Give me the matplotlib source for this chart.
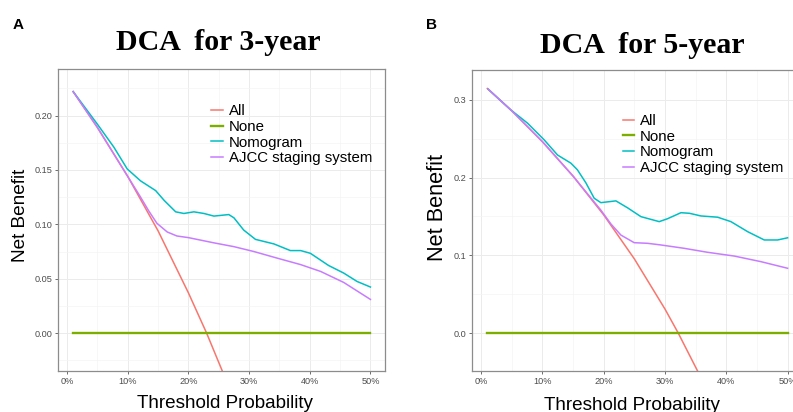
import numpy as np
import matplotlib
matplotlib.use("Agg")
from matplotlib import pyplot as plt

# ---- data ----
series_names = ["All", "None", "Nomogram", "AJCC staging system"]
series_colors = ["#F8766D", "#7CAE00", "#00BFC4", "#C77CFF"]

x_ticks = [0.0, 0.1, 0.2, 0.3, 0.4, 0.5]
x_tick_labels = ["0%", "10%", "20%", "30%", "40%", "50%"]
none_thr = [0.01, 0.50]
none_nb = [0.0, 0.0]

# 3-year
all3_thr = [0.01, 0.05, 0.10, 0.15, 0.20, 0.23, 0.256]
all3_nb = [0.222, 0.189, 0.144, 0.094, 0.037, 0.0, -0.035]
nomo3_thr = [0.01, 0.05, 0.077, 0.099, 0.121, 0.146, 0.160, 0.179, 0.1925, 0.209,
             0.2255, 0.242, 0.2665, 0.275, 0.291, 0.3105, 0.341, 0.368, 0.385,
             0.401, 0.431, 0.456, 0.478, 0.50]
nomo3_nb = [0.222, 0.192, 0.171, 0.151, 0.140, 0.131, 0.122, 0.1115, 0.110, 0.1115,
            0.110, 0.1076, 0.109, 0.106, 0.0948, 0.0862, 0.082, 0.0759, 0.0759,
            0.0734, 0.0622, 0.0552, 0.0475, 0.0424]
ajcc3_thr = [0.01, 0.05, 0.10, 0.12, 0.135, 0.148, 0.165, 0.181, 0.20, 0.242, 0.275,
             0.308, 0.346, 0.385, 0.418, 0.456, 0.50]
ajcc3_nb = [0.222, 0.189, 0.144, 0.126, 0.112, 0.101, 0.093, 0.0893, 0.0878, 0.083,
            0.0795, 0.075, 0.069, 0.063, 0.0567, 0.0466, 0.031]
y3_ticks = [0.0, 0.05, 0.10, 0.15, 0.20]
y3_labels = ["0.00", "0.05", "0.10", "0.15", "0.20"]

# 5-year
all5_thr = [0.01, 0.05, 0.10, 0.15, 0.20, 0.25, 0.30, 0.3215, 0.353]
all5_nb = [0.3146, 0.2858, 0.2461, 0.2018, 0.1519, 0.0953, 0.0307, 0.0, -0.0487]
nomo5_thr = [0.0114, 0.0484, 0.0756, 0.1028, 0.1246, 0.1464, 0.157, 0.171, 0.1844,
             0.1953, 0.2198, 0.239, 0.2607, 0.2905, 0.304, 0.326, 0.340, 0.3586,
             0.3858, 0.4075, 0.4348, 0.462, 0.4837, 0.50]
nomo5_nb = [0.3137, 0.287, 0.270, 0.2485, 0.229, 0.2185, 0.210, 0.193, 0.1734,
            0.1677, 0.170, 0.161, 0.1497, 0.1433, 0.147, 0.1548, 0.154, 0.1506,
            0.149, 0.1433, 0.1304, 0.1197, 0.1197, 0.1225]
ajcc5_thr = [0.0114, 0.05, 0.10, 0.15, 0.1954, 0.212, 0.228, 0.2497, 0.2716, 0.293,
             0.331, 0.369, 0.413, 0.4565, 0.50]
ajcc5_nb = [0.3137, 0.2858, 0.2461, 0.2018, 0.158, 0.140, 0.126, 0.1162, 0.1154,
            0.1133, 0.109, 0.1039, 0.099, 0.0918, 0.0833]
y5_ticks = [0.0, 0.1, 0.2, 0.3]
y5_labels = ["0.0", "0.1", "0.2", "0.3"]


def style_axes(ax, yticks, ylabels, yminor, ylim):
    ax.set_xlim(-0.0145, 0.5245)
    ax.set_ylim(*ylim)
    ax.set_xticks(x_ticks)
    ax.set_xticklabels(x_tick_labels)
    ax.set_xticks([0.05, 0.15, 0.25, 0.35, 0.45], minor=True)
    ax.set_yticks(yticks)
    ax.set_yticklabels(ylabels)
    ax.set_yticks(yminor, minor=True)
    ax.grid(which="major", color="#EBEBEB", lw=0.7)
    ax.grid(which="minor", color="#F4F4F4", lw=0.5)
    ax.set_axisbelow(True)
    ax.tick_params(which="major", length=2.5, width=0.6, color="#555555",
                   labelsize=6.6, labelcolor="#4D4D4D", pad=2)
    ax.tick_params(which="minor", length=0)
    for s in ax.spines.values():
        s.set_color("#8C8C8C")
        s.set_linewidth(0.9)


def draw_panel(ax, curves, leg_anchor):
    for (thr, nb), name, col in zip(curves, series_names, series_colors):
        lw = 1.7 if name == "None" else 1.1
        ax.plot(thr, nb, color=col, lw=lw, label=name, solid_joinstyle="round")
    ax.legend(loc="upper left", bbox_to_anchor=leg_anchor, frameon=False,
              fontsize=10.8, handlelength=0.75, handletextpad=0.4,
              labelspacing=0.12, borderpad=0, borderaxespad=0)


fig = plt.figure(figsize=(7.93, 4.12), dpi=100)

axA = fig.add_axes([58.3 / 793, 1 - 370.7 / 412, 327 / 793, 301.4 / 412])
draw_panel(axA, [(all3_thr, all3_nb), (none_thr, none_nb), (nomo3_thr, nomo3_nb),
                 (ajcc3_thr, ajcc3_nb)], (0.468, 0.885))
style_axes(axA, y3_ticks, y3_labels,
           [-0.025, 0.025, 0.075, 0.125, 0.175, 0.225], (-0.0345, 0.2425))

axB = fig.add_axes([472.3 / 793, 1 - 370.7 / 412, 330.3 / 793, 300.4 / 412])
draw_panel(axB, [(all5_thr, all5_nb), (none_thr, none_nb), (nomo5_thr, nomo5_nb),
                 (ajcc5_thr, ajcc5_nb)], (0.455, 0.855))
style_axes(axB, y5_ticks, y5_labels, [0.05, 0.15, 0.25], (-0.0485, 0.338))

# titles and labels
title_font = dict(family="Liberation Serif", weight="bold", fontsize=21.5)
fig.text(218.8 / 793, 1 - 50 / 412, "DCA  for 3-year", ha="center", va="baseline", **title_font)
fig.text(642.2 / 793, 1 - 52.7 / 412, "DCA  for 5-year", ha="center", va="baseline", **title_font)
fig.text(13 / 793, 1 - 29.3 / 412, "A", fontsize=11, weight="bold", family="Liberation Sans")
fig.text(426.5 / 793, 1 - 29.3 / 412, "B", fontsize=11, weight="bold", family="Liberation Sans")

lab_font = dict(family="Liberation Sans")
fig.text(224.7 / 793, 1 - 408 / 412, "Threshold Probability", ha="center",
         va="baseline", fontsize=13.6, **lab_font)
fig.text(632.5 / 793, 1 - 410 / 412, "Threshold Probability", ha="center",
         va="baseline", fontsize=13.6, **lab_font)
fig.text(20.5 / 793, 1 - 215 / 412, "Net Benefit", rotation=90, ha="center",
         va="center", fontsize=13.7, **lab_font)
fig.text(437.7 / 793, 1 - 207.5 / 412, "Net Benefit", rotation=90, ha="center",
         va="center", fontsize=15.7, **lab_font)

for ax in (axA, axB):
    for lbl in ax.get_xticklabels() + ax.get_yticklabels():
        lbl.set_family("Liberation Sans")
    for t in ax.get_legend().get_texts():
        t.set_family("Liberation Sans")

fig.savefig("out.png", dpi=100)
